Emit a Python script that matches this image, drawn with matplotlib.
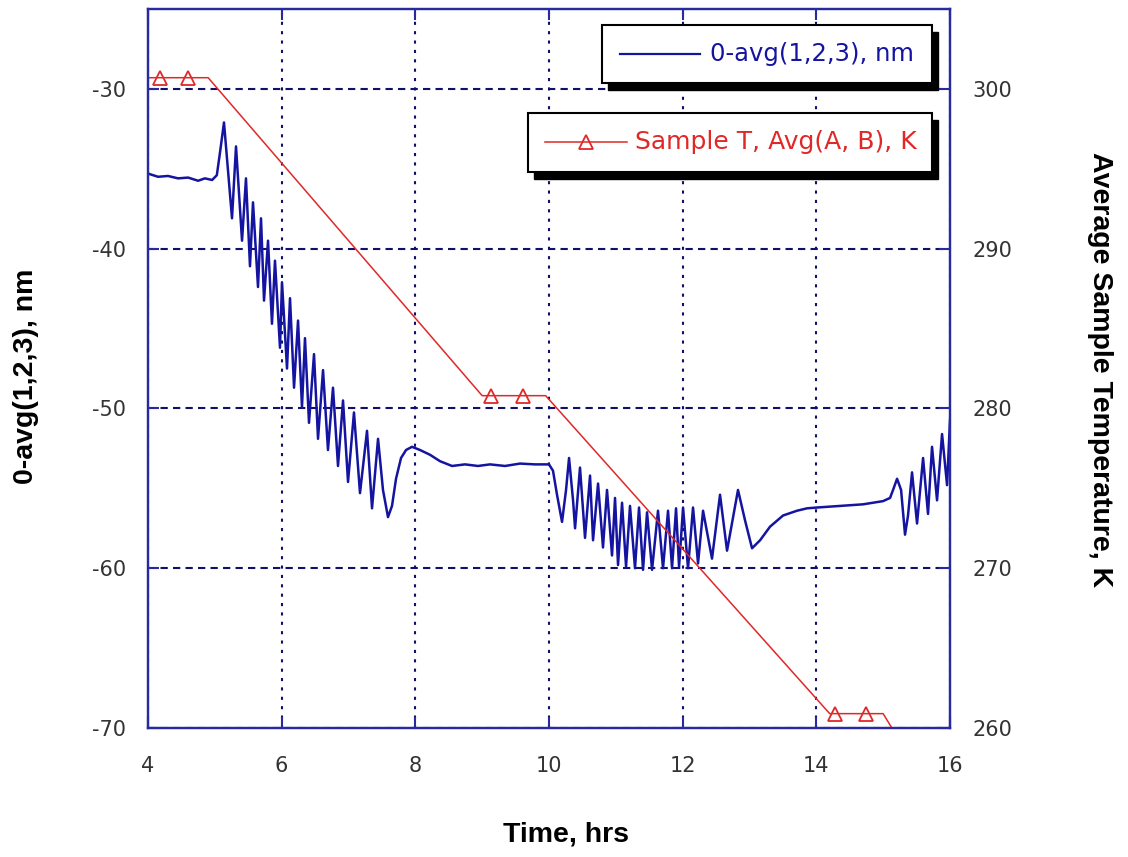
import numpy as np
import matplotlib.pyplot as plt
from matplotlib.patches import Rectangle
from matplotlib.lines import Line2D

plt.rcParams['axes.unicode_minus'] = False

# blue trace: 0-avg(1,2,3), nm  (peaks and troughs)
tempo_azul = [
    4.00, 4.15, 4.30, 4.45, 4.60, 4.75, 4.85, 4.96, 5.03, 5.08,
    5.137, 5.257, 5.317, 5.407, 5.466, 5.526, 5.571, 5.646, 5.691, 5.736,
    5.796, 5.855, 5.900, 5.975, 6.005, 6.080, 6.125, 6.185, 6.245, 6.304,
    6.349, 6.409, 6.484, 6.544, 6.619, 6.693, 6.768, 6.843, 6.918, 6.993,
    7.082, 7.172, 7.277, 7.352, 7.442, 7.516, 7.591, 7.651, 7.711, 7.786,
    7.861, 7.950, 8.070, 8.220, 8.369, 8.549, 8.743, 8.938, 9.117, 9.342,
    9.566, 9.791, 10.000, 10.060, 10.120, 10.195, 10.255, 10.300, 10.360, 10.390,
    10.464, 10.539, 10.614, 10.659, 10.734, 10.808, 10.868, 10.943, 10.988, 11.033,
    11.093, 11.153, 11.212, 11.287, 11.347, 11.407, 11.467, 11.542, 11.631, 11.706,
    11.781, 11.841, 11.901, 11.946, 12.006, 12.080, 12.155, 12.230, 12.305, 12.439,
    12.559, 12.664, 12.828, 12.933, 13.038, 13.158, 13.307, 13.502, 13.711, 13.861,
    14.010, 14.355, 14.699, 14.998, 15.103, 15.148, 15.208, 15.268, 15.327, 15.372,
    15.432, 15.507, 15.597, 15.671, 15.731, 15.806, 15.881, 15.956, 16.000,
]
desvio_nm = [
    -35.3, -35.5, -35.45, -35.6, -35.55, -35.75, -35.6, -35.7, -35.4, -33.9,
    -32.1, -38.1, -33.6, -39.5, -35.6, -41.1, -37.1, -42.4, -38.1, -43.25,
    -39.5, -44.7, -40.75, -46.2, -42.1, -47.5, -43.1, -48.7, -44.5, -49.9,
    -45.6, -50.9, -46.6, -51.9, -47.6, -52.6, -48.7, -53.6, -49.5, -54.6,
    -50.25, -55.3, -51.4, -56.25, -51.9, -55.1, -56.8, -56.1, -54.4, -53.1,
    -52.6, -52.4, -52.6, -52.9, -53.3, -53.6, -53.5, -53.6, -53.5, -53.6,
    -53.45, -53.5, -53.5, -53.9, -55.4, -57.1, -55.1, -53.1, -55.75, -57.5,
    -53.7, -58.1, -54.2, -58.25, -54.7, -58.7, -55.1, -59.2, -55.6, -59.8,
    -55.9, -59.9, -56.1, -60.0, -56.2, -60.1, -56.5, -60.1, -56.4, -60.0,
    -56.4, -60.0, -56.25, -59.9, -56.2, -60.0, -56.2, -59.7, -56.4, -59.4,
    -55.4, -58.9, -55.1, -57.0, -58.75, -58.25, -57.4, -56.7, -56.4, -56.25,
    -56.2, -56.1, -56.0, -55.8, -55.6, -55.1, -54.4, -55.1, -57.9, -56.7,
    -54.0, -57.2, -53.1, -56.6, -52.4, -55.75, -51.6, -54.8, -50.75,
]

# red trace: sample temperature, K
tempo_temp = [4.00, 4.18, 4.60, 4.90, 9.00, 9.13, 9.61, 9.95, 14.20, 14.28, 14.74, 15.00, 15.13, 15.25]
temperatura = [300.7, 300.7, 300.7, 300.7, 280.8, 280.8, 280.8, 280.8, 260.9, 260.9, 260.9, 260.9, 260.0, 259.3]
marcas = [1, 2, 5, 6, 9, 10]

x_ticks = [4, 6, 8, 10, 12, 14, 16]
y_ticks_nm = [-70, -60, -50, -40, -30]
y_ticks_k = [260, 270, 280, 290, 300]

azul = '#1414a0'
vermelho = '#e02828'
moldura = '#2a2aa0'
grade = '#10106a'

fig = plt.figure(figsize=(11.28, 8.57), dpi=100)
ax = fig.add_axes([0.1312, 0.1505, 0.711, 0.839])
ax2 = ax.twinx()

ax.plot(tempo_azul, desvio_nm, color=azul, lw=1.8, zorder=3)
ax2.plot(tempo_temp, temperatura, color=vermelho, lw=1.1, marker='^', markevery=marcas,
         markersize=10, markerfacecolor='none', markeredgecolor=vermelho, markeredgewidth=1.3)

ax.set_xlim(4, 16)
ax.set_ylim(-70, -25)
ax2.set_ylim(260, 305)
ax.set_xticks(x_ticks)
ax.set_yticks(y_ticks_nm)
ax2.set_yticks(y_ticks_k)

ax.xaxis.grid(True, color=grade, linestyle=(0, (1.5, 3.0)), lw=1.5)
ax.yaxis.grid(True, color=grade, linestyle=(0, (3.5, 2.5)), lw=1.5)
ax.set_axisbelow(True)

for a in (ax, ax2):
    for s in a.spines.values():
        s.set_color(moldura)
        s.set_linewidth(1.6)
ax.tick_params(direction='in', length=8, width=1.5, color=moldura, top=True,
               labelsize=15, labelcolor='#333333')
ax.tick_params(axis='y', pad=16)
ax.tick_params(axis='x', pad=20)
ax2.tick_params(direction='in', length=8, width=1.5, color=moldura, labelsize=15,
                labelcolor='#333333', pad=16)

fonte_eixo = dict(family=['Liberation Sans', 'DejaVu Sans'], weight='bold', size=20.5)
fig.text(0.023, 0.561, '0-avg(1,2,3), nm', rotation=90, ha='center', va='center', **fonte_eixo)
fig.text(0.975, 0.569, 'Average Sample Temperature, K', rotation=270, ha='center', va='center', **fonte_eixo)
fig.text(0.502, 0.0257, 'Time, hrs', ha='center', va='center', **fonte_eixo)

# legend boxes with a hard black drop shadow
def caixa(x0, y0, x1, y1):
    sx, sy = 0.0075, 0.0097
    ax2.add_patch(Rectangle((x0 + sx, y0 - sy), x1 - x0, y1 - y0, transform=ax2.transAxes,
                            facecolor='black', edgecolor='black', zorder=10))
    ax2.add_patch(Rectangle((x0, y0), x1 - x0, y1 - y0, transform=ax2.transAxes,
                            facecolor='white', edgecolor='black', lw=1.5, zorder=11))

caixa(0.566, 0.897, 0.9776, 0.9778)
ax2.add_line(Line2D([0.588, 0.688], [0.937, 0.937], transform=ax2.transAxes, color=azul, lw=1.6, zorder=12))
ax2.text(0.701, 0.937, '0-avg(1,2,3), nm', transform=ax2.transAxes, color=azul, fontsize=17.5,
         va='center', ha='left', zorder=12)

caixa(0.4738, 0.7733, 0.9776, 0.8554)
ax2.add_line(Line2D([0.495, 0.597], [0.815, 0.815], transform=ax2.transAxes, color=vermelho, lw=1.1, zorder=12))
ax2.add_line(Line2D([0.546], [0.815], transform=ax2.transAxes, marker='^', markersize=10,
                    markerfacecolor='none', markeredgecolor=vermelho, markeredgewidth=1.3, zorder=12))
ax2.text(0.607, 0.815, 'Sample T, Avg(A, B), K', transform=ax2.transAxes, color=vermelho, fontsize=18,
         va='center', ha='left', zorder=12)

fig.savefig('out.png', dpi=100)
